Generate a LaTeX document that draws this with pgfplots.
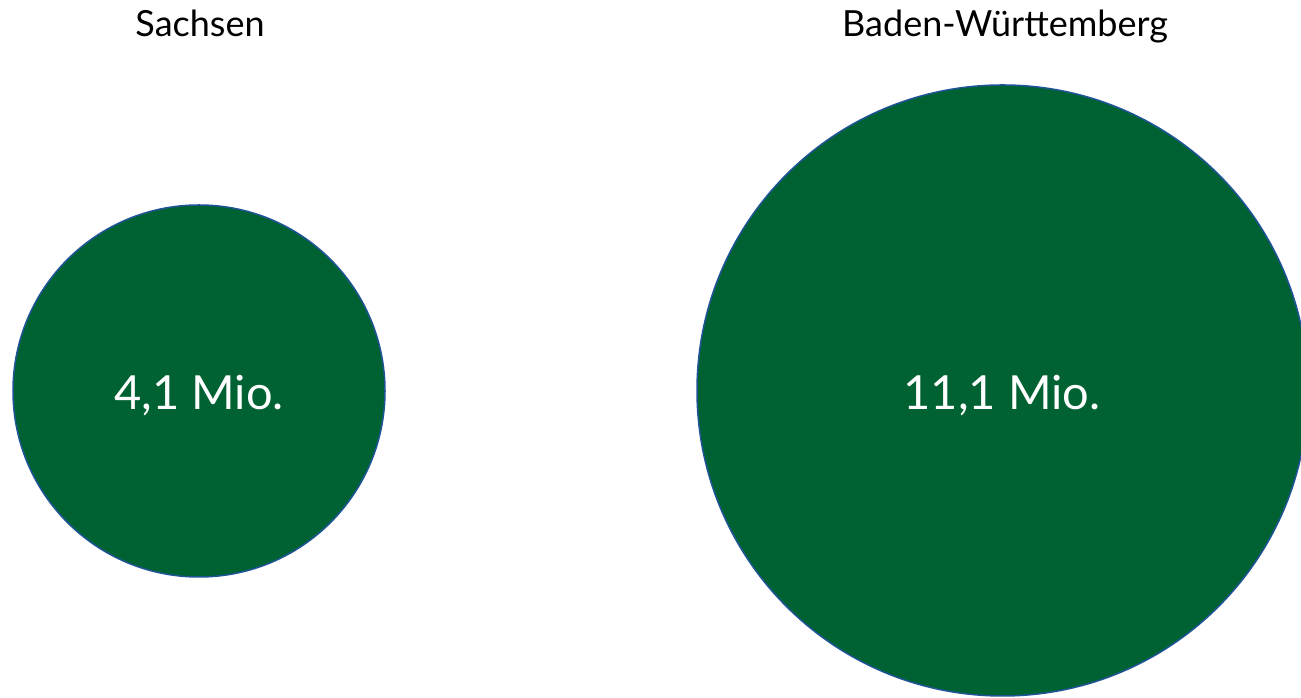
\documentclass[border=0pt]{standalone}
\usepackage{pgfplots}
\pgfplotsset{compat=1.18}
\usepackage{fontspec}
\setmainfont{Lato}
\definecolor{fillgreen}{RGB}{0,98,51}
\definecolor{edgeblue}{RGB}{31,84,150}
\begin{document}
\begin{tikzpicture}[x=1bp,y=1bp]
\useasboundingbox (0,0) rectangle (1301,697);
\begin{axis}[
  at={(0,0)}, anchor=south west,
  scale only axis, width=1301bp, height=697bp,
  xmin=0, xmax=1301, ymin=0, ymax=697,
  hide axis, clip=true, clip marker paths=true,
]
% Sachsen: 4.1 Mio, Baden-Wuerttemberg: 11.1 Mio (area proportional)
\addplot[only marks, mark=*, mark size=186bp,
  mark options={fill=fillgreen, draw=edgeblue, line width=1.5bp}]
  coordinates {(199,306)};
\addplot[only marks, mark=*, mark size=305.5bp,
  mark options={fill=fillgreen, draw=edgeblue, line width=1.5bp}]
  coordinates {(1002.5,306.5)};
\node[text=white, anchor=base, font=\fontsize{47bp}{52bp}\selectfont] at (axis cs:199,287) {4,1 Mio.};
\node[text=white, anchor=base, font=\fontsize{47bp}{52bp}\selectfont] at (axis cs:1002,287) {11,1 Mio.};
\node[text=black, anchor=base, font=\fontsize{36bp}{40bp}\selectfont] at (axis cs:200,660) {Sachsen};
\node[text=black, anchor=base, font=\fontsize{36bp}{40bp}\selectfont] at (axis cs:1005,660) {Baden-Württemberg};
\end{axis}
\end{tikzpicture}
\end{document}
